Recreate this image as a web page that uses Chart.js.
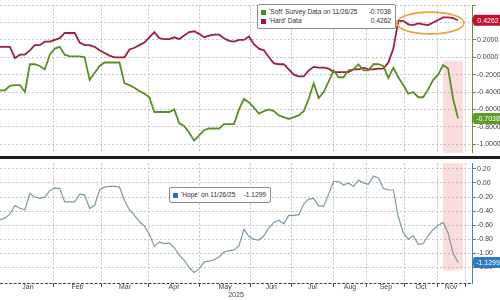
<!DOCTYPE html>
<html>
<head>
<meta charset="utf-8">
<script src="https://cdn.jsdelivr.net/npm/chart.js@4.4.0/dist/chart.umd.min.js"></script>
<style>
  body { margin:0; width:500px; height:300px; background:#fff; position:relative; overflow:hidden; font-family:"Liberation Sans", Arial, sans-serif; }
  #topWrap { position:absolute; left:0; top:0; width:500px; height:158px; }
  #botWrap { position:absolute; left:0; top:158px; width:500px; height:142px; }
  .sep { position:absolute; left:0; top:156px; width:500px; height:3px; background:#1e1e1e; }
  .legend { position:absolute; background:#fff; border:1px solid #8c8c8c; border-radius:2px; font-size:6.6px; color:#333; }
  .row { position:absolute; left:3px; right:4px; height:8px; line-height:8px; white-space:nowrap; }
  .sw { display:inline-block; width:5px; height:5px; margin-right:3px; vertical-align:-0.5px; }
  .val { position:absolute; right:0; top:0; }
</style>
</head>
<body>
<div id="topWrap"><canvas id="top" width="500" height="158"></canvas></div>
<div id="botWrap"><canvas id="bot" width="500" height="142"></canvas></div>
<div class="sep"></div>

<div class="legend" style="left:257px;top:4px;width:137px;height:23px;">
  <div class="row" style="top:3px"><span class="sw" style="background:#5a8a1e"></span><span id="softLab"></span><span class="val" id="softVal"></span></div>
  <div class="row" style="top:12px"><span class="sw" style="background:#a8123a"></span><span id="hardLab"></span><span class="val" id="hardVal"></span></div>
</div>
<div class="legend" style="left:169px;top:187px;width:100px;height:14px;">
  <div class="row" style="top:3px"><span class="sw" style="background:#2f6ea8"></span><span id="hopeLab"></span><span class="val" id="hopeVal"></span></div>
</div>

<script>
const hard = [0.12,0.12,0.12,-0.01,0.03,0.03,0.08,0.14,0.14,0.18,
  0.18,0.2,0.22,0.28,0.28,0.28,0.17,0.14,0.14,0.12,
  0.08,0.05,0.02,0.0,0.0,0.0,0.09,0.11,0.14,0.17,
  0.23,0.29,0.22,0.21,0.21,0.23,0.21,0.25,0.29,0.3,
  0.27,0.23,0.25,0.26,0.26,0.22,0.19,0.18,0.2,0.2,
  0.24,0.15,0.1,0.08,0.0,-0.07,-0.08,-0.08,-0.14,-0.2,
  -0.22,-0.22,-0.15,-0.11,-0.12,-0.12,-0.13,-0.17,-0.17,-0.17,
  -0.17,-0.14,-0.14,-0.12,-0.14,-0.14,-0.13,-0.13,-0.06,0.1,
  0.42,0.42,0.38,0.37,0.39,0.38,0.37,0.4,0.43,0.46,
  0.46,0.45,0.4262];
const soft = [-0.38,-0.38,-0.33,-0.32,-0.32,-0.4,-0.08,-0.08,-0.1,-0.14,
  0.03,0.1,0.12,0.03,0.01,0.01,0.01,0.0,-0.26,-0.18,
  -0.1,-0.06,-0.06,-0.06,-0.06,-0.3,-0.32,-0.35,-0.39,-0.42,
  -0.46,-0.63,-0.63,-0.63,-0.63,-0.6,-0.76,-0.79,-0.87,-0.96,
  -0.9,-0.84,-0.82,-0.82,-0.82,-0.77,-0.77,-0.77,-0.6,-0.48,
  -0.52,-0.58,-0.65,-0.62,-0.6,-0.62,-0.67,-0.69,-0.71,-0.69,
  -0.67,-0.62,-0.48,-0.3,-0.47,-0.4,-0.28,-0.15,-0.23,-0.23,
  -0.15,-0.14,-0.08,-0.15,-0.15,-0.08,-0.08,-0.1,-0.24,-0.12,
  -0.23,-0.32,-0.42,-0.4,-0.46,-0.46,-0.37,-0.26,-0.2,-0.09,
  -0.13,-0.48,-0.7038];
const hope = [-0.52,-0.5,-0.44,-0.32,-0.36,-0.38,-0.15,-0.2,-0.22,-0.2,
  -0.11,-0.07,-0.08,-0.27,-0.27,-0.27,-0.16,-0.17,-0.36,-0.32,
  -0.1,-0.06,-0.05,-0.05,-0.06,-0.25,-0.38,-0.46,-0.55,-0.61,
  -0.73,-0.9,-0.84,-0.86,-0.85,-0.92,-1.02,-1.1,-1.2,-1.27,
  -1.22,-1.12,-1.11,-1.09,-1.05,-0.98,-0.96,-0.95,-0.89,-0.66,
  -0.76,-0.8,-0.81,-0.75,-0.64,-0.56,-0.53,-0.58,-0.46,-0.46,
  -0.45,-0.3,-0.23,-0.22,-0.33,-0.33,-0.16,0.02,0.02,-0.03,
  0.0,-0.05,0.04,0.0,-0.02,0.1,0.07,-0.08,-0.1,-0.1,
  -0.48,-0.71,-0.8,-0.75,-0.87,-0.86,-0.75,-0.66,-0.6,-0.56,
  -0.71,-1.0,-1.1299];

// x axis: month edges in observation units
const monthLabels = ["Jan","Feb","Mar","Apr","May","Jun","Jul","Aug","Sep","Oct","Nov"];
const monthEdges = [0.4,10.8,20.3,29.9,40.0,50.4,58.6,66.9,73.7,81.3,87.8,93.4];
const yearLabel = "2025";
const xMax = 94.8;

// y ticks (0.6 only gets a grid line at the very top)
const topTicks = [0.6,0.4,0.2,0,-0.2,-0.4,-0.6,-0.8,-1.0];
const botTicks = [0.2,0,-0.2,-0.4,-0.6,-0.8,-1.0,-1.2];

const asPoints = arr => arr.map((v, i) => ({ x: i, y: v }));
const last = arr => arr[arr.length - 1];

document.getElementById("softLab").textContent = "'Soft' Survey Data on 11/26/25";
document.getElementById("softVal").textContent = last(soft).toFixed(4);
document.getElementById("hardLab").textContent = "'Hard' Data";
document.getElementById("hardVal").textContent = last(hard).toFixed(4);
document.getElementById("hopeLab").textContent = "'Hope' on 11/26/25";
document.getElementById("hopeVal").textContent = last(hope).toFixed(4);

const edgeTicks = monthEdges.slice(1);
const midTicks = monthLabels.map((m, i) => (monthEdges[i] + monthEdges[i + 1]) / 2);
const font7 = { family: "'Liberation Sans', Arial, sans-serif", size: 7 };
const gridGrey = '#c4c4c4';

function xScale(showLabels) {
  return {
    type: 'linear', min: 0, max: xMax,
    afterBuildTicks: s => { s.ticks = edgeTicks.concat(midTicks).map(v => ({ value: v })); },
    afterFit: s => { s.height = showLabels ? 17 : 0; },
    grid: {
      color: c => c.index < edgeTicks.length ? gridGrey : 'rgba(0,0,0,0)',
      tickColor: c => c.index < edgeTicks.length ? '#555' : 'rgba(0,0,0,0)',
      drawTicks: showLabels, tickLength: 4, tickBorderDash: []
    },
    border: { display: false, dash: [2, 2] },
    ticks: {
      display: showLabels, autoSkip: false, maxRotation: 0, padding: -4,
      font: font7, color: '#444',
      callback: (v, i) => i < edgeTicks.length ? '' : monthLabels[i - edgeTicks.length]
    },
    title: { display: showLabels, text: yearLabel, padding: { top: 0, bottom: 1 }, font: font7, color: '#444' }
  };
}

function yScale(min, max, ticks, digits, axisColor) {
  return {
    position: 'right', min: min, max: max,
    afterBuildTicks: s => { s.ticks = ticks.map(v => ({ value: v })); },
    afterFit: s => { s.width = 28; },
    grid: { color: gridGrey, tickColor: axisColor, tickLength: 4, tickBorderDash: [] },
    border: { color: axisColor, dash: [2, 2] },
    ticks: { padding: 1, color: '#444', font: font7,
      callback: v => v >= max - 1e-9 ? '' : v.toFixed(digits) }
  };
}

// shading, ellipse, dashed base line and last-value tags
const overlays = {
  id: 'overlays',
  beforeDatasetsDraw(chart, args, o) {
    if (!o.shade) return;
    const { ctx, chartArea, scales: { x, y } } = chart;
    const s = o.shade;
    const x0 = x.getPixelForValue(s.x0), x1 = x.getPixelForValue(s.x1);
    const y0 = s.y0 == null ? chartArea.top : y.getPixelForValue(s.y0);
    const y1 = s.y1 == null ? chartArea.bottom : y.getPixelForValue(s.y1);
    ctx.save();
    ctx.fillStyle = 'rgba(240,150,150,0.33)';
    ctx.fillRect(x0, y0, x1 - x0, y1 - y0);
    ctx.restore();
  },
  afterDraw(chart, args, o) {
    const { ctx, chartArea, scales: { x, y } } = chart;
    ctx.save();
    if (o.baseLine) {
      ctx.strokeStyle = '#444';
      ctx.lineWidth = 1;
      ctx.setLineDash([3, 1.5]);
      ctx.beginPath();
      ctx.moveTo(chartArea.left, chartArea.bottom + 0.5);
      ctx.lineTo(chartArea.right, chartArea.bottom + 0.5);
      ctx.stroke();
      ctx.setLineDash([]);
    }
    if (o.ellipse) {
      const e = o.ellipse;
      const cx = (x.getPixelForValue(e.x0) + x.getPixelForValue(e.x1)) / 2;
      const cy = (y.getPixelForValue(e.y0) + y.getPixelForValue(e.y1)) / 2;
      const rx = Math.abs(x.getPixelForValue(e.x1) - x.getPixelForValue(e.x0)) / 2;
      const ry = Math.abs(y.getPixelForValue(e.y1) - y.getPixelForValue(e.y0)) / 2;
      ctx.beginPath();
      ctx.ellipse(cx, cy, rx, ry, 0, 0, Math.PI * 2);
      ctx.strokeStyle = '#e8a43a';
      ctx.lineWidth = 1.6;
      ctx.stroke();
    }
    (o.tags || []).forEach(t => {
      const py = y.getPixelForValue(t.value);
      const left = chartArea.right + 2;
      ctx.fillStyle = t.color;
      ctx.beginPath();
      ctx.moveTo(left - 2, py);
      ctx.lineTo(left, py - 5.5);
      ctx.lineTo(chart.width, py - 5.5);
      ctx.lineTo(chart.width, py + 5.5);
      ctx.lineTo(left, py + 5.5);
      ctx.closePath();
      ctx.fill();
      ctx.fillStyle = '#fff';
      ctx.font = "7px 'Liberation Sans', Arial, sans-serif";
      ctx.textAlign = 'center';
      ctx.textBaseline = 'middle';
      ctx.fillText(t.value.toFixed(4), (left + chart.width) / 2 + 1, py + 0.5);
    });
    ctx.restore();
  }
};

new Chart(document.getElementById('top'), {
  type: 'line',
  data: {
    datasets: [
      { label: "'Soft' Survey Data", data: asPoints(soft), borderColor: '#5c8f22', borderWidth: 1.8 },
      { label: "'Hard' Data", data: asPoints(hard), borderColor: '#9e1f3d', borderWidth: 1.8 }
    ]
  },
  options: {
    responsive: false, animation: false,
    layout: { padding: { top: 1, bottom: 2, left: 0, right: 0 } },
    elements: { point: { radius: 0 }, line: { tension: 0 } },
    plugins: {
      legend: { display: false }, tooltip: { enabled: false },
      overlays: {
        shade: { x0: 88.95, x1: 92.97, y0: -0.04, y1: null },
        ellipse: { x0: 79.7, x1: 93.2, y0: 0.27, y1: 0.52 },
        tags: [{ value: last(hard), color: '#c0102e' }, { value: last(soft), color: '#5e9c2a' }]
      }
    },
    scales: { x: xScale(false), y: yScale(-1.1, 0.6, topTicks, 4, '#6b8e3a') }
  },
  plugins: [overlays]
});

new Chart(document.getElementById('bot'), {
  type: 'line',
  data: {
    datasets: [
      { label: "'Hope'", data: asPoints(hope), borderColor: '#7d99a5', borderWidth: 1.2 }
    ]
  },
  options: {
    responsive: false, animation: false,
    layout: { padding: 0 },
    elements: { point: { radius: 0 }, line: { tension: 0 } },
    plugins: {
      legend: { display: false }, tooltip: { enabled: false },
      overlays: {
        shade: { x0: 88.95, x1: 92.97, y0: null, y1: -1.24 },
        baseLine: true,
        tags: [{ value: last(hope), color: '#2d7cc0' }]
      }
    },
    scales: { x: xScale(true), y: yScale(-1.42, 0.28, botTicks, 2, '#4d7ea8') }
  },
  plugins: [overlays]
});
</script>
</body>
</html>
